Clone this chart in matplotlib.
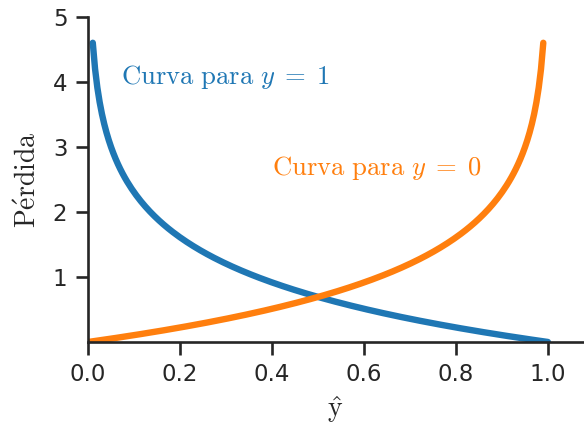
import numpy as np
import matplotlib.pyplot as plt
import seaborn as sns

sns.set_theme(style='ticks', context='talk')
plt.rcParams['mathtext.fontset'] = 'cm'

# predicted probability range and the two log-loss branches
y_hat_pos = np.linspace(0.01, 1.0, 200)
y_hat_neg = np.linspace(0.0, 0.99, 200)
loss_pos = -np.log(y_hat_pos)        # y = 1
loss_neg = -np.log(1 - y_hat_neg)    # y = 0

x_ticks = [0.0, 0.2, 0.4, 0.6, 0.8, 1.0]
y_ticks = [1, 2, 3, 4, 5]

fig = plt.figure(figsize=(5.84, 4.28), dpi=100)
ax = fig.add_axes([0.151, 0.201, 0.847, 0.759])

ax.plot(y_hat_pos, loss_pos, color='tab:blue', lw=4.6, solid_capstyle='round')
ax.plot(y_hat_neg, loss_neg, color='tab:orange', lw=4.6, solid_capstyle='round')

ax.text(0.072, 4.08, r'$\mathrm{Curva\ para}\ y\;=\;1$', color='tab:blue',
        fontsize=19.2, va='center')
ax.text(0.40, 2.68, r'$\mathrm{Curva\ para}\ y\;=\;0$', color='tab:orange',
        fontsize=19.2, va='center')

ax.set_xlim(0, 1.076)
ax.set_ylim(0, 5)
ax.set_xticks(x_ticks)
ax.set_yticks(y_ticks)
ax.tick_params(labelsize=16.5, length=9, width=1.9, pad=6)
for s in ['left', 'bottom']:
    ax.spines[s].set_linewidth(1.9)
sns.despine(ax=ax)

ax.set_xlabel(r'$\hat{\mathrm{y}}$', fontsize=20, labelpad=6)
ax.set_ylabel(r'$\mathrm{P\acute{e}rdida}$', fontsize=20, labelpad=8)

fig.savefig('out.png', dpi=100)
